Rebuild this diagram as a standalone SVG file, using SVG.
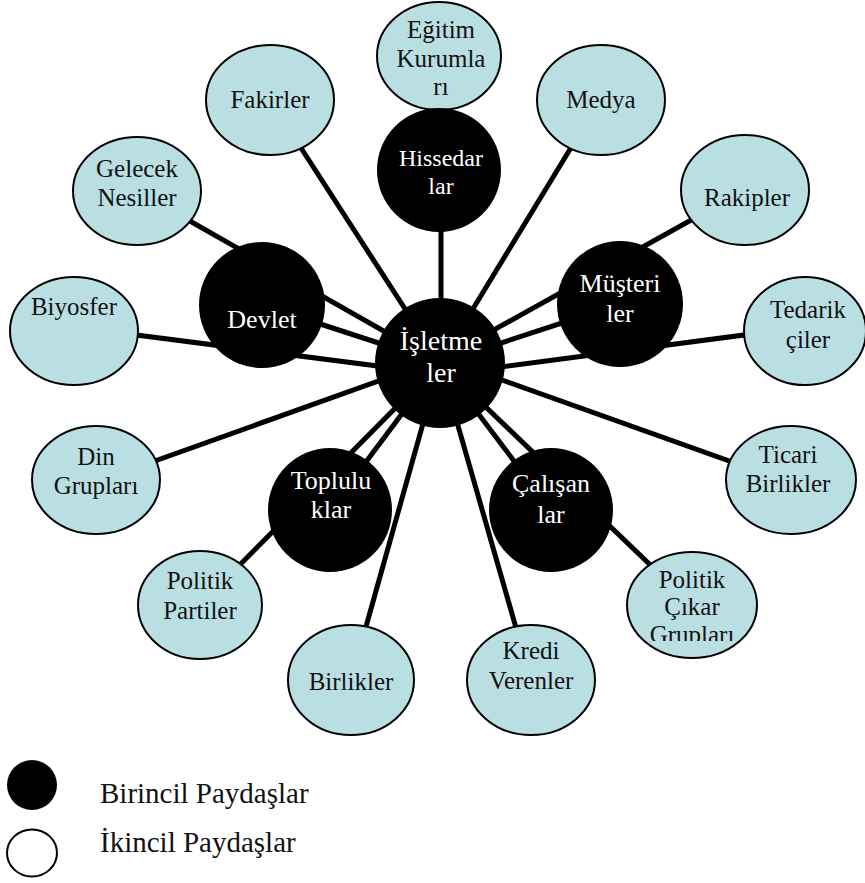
<svg xmlns="http://www.w3.org/2000/svg" width="865" height="883" viewBox="0 0 865 883">
  <style>
    .sec ellipse { fill: #B9DFE3; stroke: #000; stroke-width: 2; }
    .pri circle { fill: #000; }
    text { text-anchor: middle; }
    .sec text { font-size: 25px; fill: #111; }
    .pri text { font-size: 26px; fill: #fff; }
    #n-hissedarlar text { font-size: 24px; }
    #n-isletmeler text { font-size: 28px; }
    .edge line { stroke: #000; stroke-width: 5; }
    .legend text { font-size: 29px; text-anchor: start; fill: #111; }
  </style>
  <defs>
    <clipPath id="clip-cikar">
      <rect x="600" y="540" width="180" height="101"/>
    </clipPath>
  </defs>

  <rect width="865" height="883" fill="#fff"/>

  <!-- connectors: every stakeholder is tied to the firm in the middle -->
  <g id="connectors" class="edge">
    <line x1="441" y1="60" x2="441" y2="363"/>
    <line x1="270" y1="100" x2="440" y2="363"/>
    <line x1="600" y1="100" x2="440" y2="363"/>
    <line x1="745" y1="190" x2="440" y2="360"/>
    <line x1="137" y1="191" x2="440" y2="363"/>
    <line x1="74" y1="327" x2="440" y2="374"/>
    <line x1="805" y1="327" x2="440" y2="375"/>
    <line x1="96" y1="482" x2="440" y2="359"/>
    <line x1="791" y1="483" x2="440" y2="358"/>
    <line x1="200" y1="605" x2="440" y2="363"/>
    <line x1="692" y1="605" x2="440" y2="363"/>
    <line x1="351" y1="680" x2="440" y2="363"/>
    <line x1="531" y1="680" x2="440" y2="363"/>
    <line x1="262" y1="305" x2="440" y2="363"/>
    <line x1="620" y1="304" x2="440" y2="363"/>
    <line x1="330" y1="510" x2="440" y2="363"/>
    <line x1="551" y1="510" x2="440" y2="363"/>
  </g>

  <g font-family="Liberation Serif, Times New Roman, serif">
  <!-- secondary stakeholders -->
  <g id="n-egitim" class="sec">
    <ellipse cx="439" cy="56" rx="62" ry="54"/>
    <text x="441" y="38">Eğitim</text>
    <text x="441" y="67">Kurumla</text>
    <text x="441" y="95">rı</text>
  </g>
  <g id="n-fakirler" class="sec">
    <ellipse cx="270" cy="100" rx="64" ry="55"/>
    <text x="270" y="108">Fakirler</text>
  </g>
  <g id="n-medya" class="sec">
    <ellipse cx="601" cy="100" rx="64" ry="55"/>
    <text x="601" y="108">Medya</text>
  </g>
  <g id="n-gelecek" class="sec">
    <ellipse cx="137" cy="191" rx="64" ry="54"/>
    <text x="137" y="177">Gelecek</text>
    <text x="137" y="206">Nesiller</text>
  </g>
  <g id="n-rakipler" class="sec">
    <ellipse cx="745" cy="190" rx="64" ry="55"/>
    <text x="747" y="206">Rakipler</text>
  </g>
  <g id="n-biyosfer" class="sec">
    <ellipse cx="74" cy="331" rx="64" ry="54"/>
    <text x="74" y="315">Biyosfer</text>
  </g>
  <g id="n-tedarikciler" class="sec">
    <ellipse cx="805" cy="331" rx="61" ry="54"/>
    <text x="808" y="318">Tedarik</text>
    <text x="808" y="348">çiler</text>
  </g>
  <g id="n-din" class="sec">
    <ellipse cx="96" cy="480" rx="64" ry="54"/>
    <text x="96" y="465">Din</text>
    <text x="96" y="494">Grupları</text>
  </g>
  <g id="n-ticari" class="sec">
    <ellipse cx="791" cy="480" rx="65" ry="54"/>
    <text x="788" y="463">Ticari</text>
    <text x="788" y="492">Birlikler</text>
  </g>
  <g id="n-politik-partiler" class="sec">
    <ellipse cx="200" cy="605" rx="62" ry="54"/>
    <text x="200" y="589">Politik</text>
    <text x="200" y="619">Partiler</text>
  </g>
  <g id="n-politik-cikar" class="sec">
    <ellipse cx="692" cy="605" rx="65" ry="53"/>
    <g clip-path="url(#clip-cikar)">
      <text x="692" y="588">Politik</text>
      <text x="692" y="615">Çıkar</text>
      <text x="692" y="643">Grupları</text>
    </g>
  </g>
  <g id="n-birlikler" class="sec">
    <ellipse cx="351" cy="680" rx="63" ry="55"/>
    <text x="351" y="690">Birlikler</text>
  </g>
  <g id="n-kredi" class="sec">
    <ellipse cx="531" cy="680" rx="64" ry="55"/>
    <text x="531" y="659">Kredi</text>
    <text x="531" y="689">Verenler</text>
  </g>

  <!-- primary stakeholders -->
  <g id="n-hissedarlar" class="pri">
    <circle cx="439" cy="170" r="62"/>
    <text x="441" y="166">Hissedar</text>
    <text x="441" y="194">lar</text>
  </g>
  <g id="n-devlet" class="pri">
    <circle cx="262" cy="305" r="63"/>
    <text x="262" y="328">Devlet</text>
  </g>
  <g id="n-musteriler" class="pri">
    <circle cx="620" cy="304" r="63"/>
    <text x="620" y="292">Müşteri</text>
    <text x="620" y="322">ler</text>
  </g>
  <g id="n-topluluklar" class="pri">
    <circle cx="330" cy="510" r="62"/>
    <text x="331" y="489">Toplulu</text>
    <text x="331" y="518">klar</text>
  </g>
  <g id="n-calisanlar" class="pri">
    <circle cx="551" cy="510" r="62"/>
    <text x="551" y="492">Çalışan</text>
    <text x="551" y="523">lar</text>
  </g>

  <!-- the firm -->
  <g id="n-isletmeler" class="pri">
    <circle cx="440" cy="363" r="65"/>
    <text x="441" y="350">İşletme</text>
    <text x="441" y="382">ler</text>
  </g>

  <!-- legend -->
  <g id="legend" class="legend">
    <circle cx="32" cy="785" r="25" fill="#000"/>
    <text x="100" y="803">Birincil Paydaşlar</text>
    <ellipse cx="32" cy="853" rx="25" ry="23.5" fill="#fff" stroke="#000" stroke-width="2"/>
    <text x="100" y="852">İkincil Paydaşlar</text>
  </g>
  </g>
</svg>
